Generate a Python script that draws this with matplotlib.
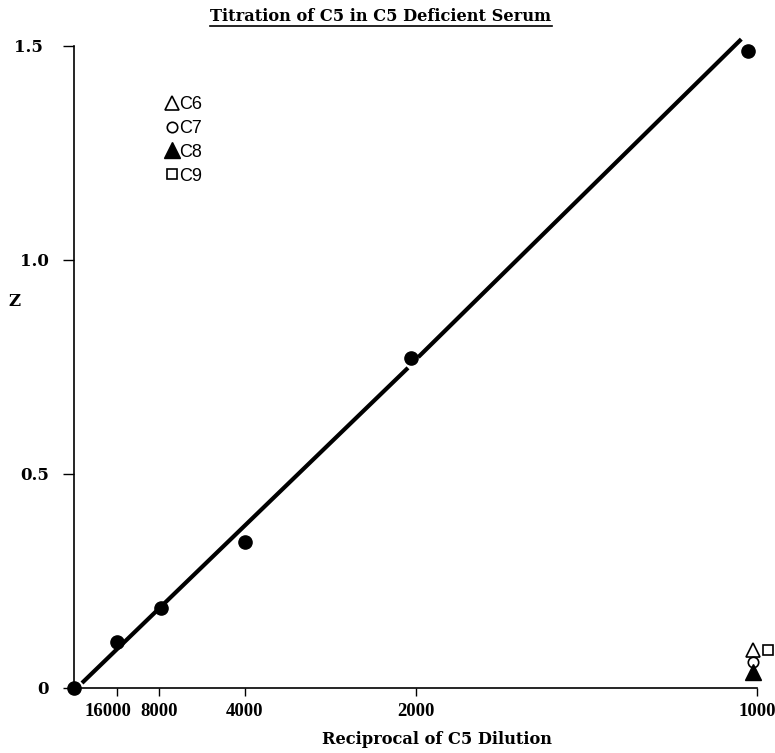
import matplotlib
matplotlib.use("Agg")
import matplotlib.pyplot as plt
from matplotlib.lines import Line2D
import matplotlib.transforms as mtransforms

# ---------------- data ----------------
reciprocal_ticks = [16000, 8000, 4000, 2000, 1000]
tick_labels = ["16000", "8000", "4000", "2000", "1000"]

# C5 titration points (x = concentration, i.e. 1 / reciprocal dilution)
c5_conc = [0.0, 0.0000625, 0.000127, 0.00025, 0.000494, 0.000987]
c5_z = [0.0, 0.107, 0.187, 0.341, 0.771, 1.488]

# fitted line (two segments, broken at the 2000 point)
fit_seg1_x = [0.0000117, 0.000489]
fit_seg1_z = [0.0117, 0.748]
fit_seg2_x = [0.000504, 0.000977]
fit_seg2_z = [0.773, 1.516]

# other components tested at 1:1000
c6_x, c6_z = [0.000994], [0.089]
c7_x, c7_z = [0.000994], [0.061]
c8_x, c8_z = [0.000994], [0.037]
c9_x, c9_z = [0.001016], [0.089]

y_ticks = [0, 0.5, 1.0, 1.5]
y_tick_labels = ["0", "0.5", "1.0", "1.5"]

# ---------------- figure ----------------
W, H = 775, 753
fig = plt.figure(figsize=(W / 100, H / 100), dpi=100)
ax = fig.add_axes([74 / W, 1 - 688 / H, (757 - 74) / W, (688 - 46) / H])

serif = "Liberation Serif"
wserif = "DejaVu Serif"
sans = "Liberation Sans"

ax.plot(fit_seg1_x, fit_seg1_z, color="black", lw=3.0, solid_capstyle="butt", clip_on=False)
ax.plot(fit_seg2_x, fit_seg2_z, color="black", lw=3.0, solid_capstyle="butt", clip_on=False)
ax.plot(c5_conc, c5_z, "o", color="black", ms=9.5, clip_on=False, zorder=5)

ax.plot(c6_x, c6_z, "^", mfc="white", mec="black", mew=1.2, ms=10.5, clip_on=False, zorder=6, label="C6")
ax.plot(c7_x, c7_z, "o", mfc="white", mec="black", mew=1.2, ms=7.5, clip_on=False, zorder=6, label="C7")
ax.plot(c8_x, c8_z, "^", mfc="black", mec="black", ms=11, clip_on=False, zorder=7, label="C8")
ax.plot(c9_x, c9_z, "s", mfc="white", mec="black", mew=1.2, ms=7.5, clip_on=False, zorder=6, label="C9")

ax.set_xlim(0, 0.001)
ax.set_ylim(0, 1.5)

for s in ["top", "right"]:
    ax.spines[s].set_visible(False)
for s in ["left", "bottom"]:
    ax.spines[s].set_linewidth(1.2)

ax.set_xticks([1.0 / r for r in reciprocal_ticks])
ax.set_xticklabels(tick_labels, fontfamily=serif, fontweight="bold", fontsize=13.5)
ax.set_yticks(y_ticks)
ax.set_yticklabels(y_tick_labels, fontfamily=wserif, fontweight="bold", fontsize=12)
ax.tick_params(axis="x", direction="out", length=6, width=1.0, pad=5)
ax.tick_params(axis="y", direction="out", length=8, width=1.0, pad=10)

# the "16000" label sits a little left of its tick in the original
xlabels = ax.get_xticklabels()
xlabels[0].set_transform(xlabels[0].get_transform() +
                         mtransforms.ScaledTranslation(-9 / 100, 0, fig.dpi_scale_trans))
ylabels = ax.get_yticklabels()
ylabels[-1].set_transform(ylabels[-1].get_transform() +
                          mtransforms.ScaledTranslation(-6 / 100, 0, fig.dpi_scale_trans))

ax.set_xlabel("Reciprocal of C5 Dilution", fontfamily=wserif, fontweight="bold", fontsize=11.7)
ax.xaxis.label.set_va("center")
ax.xaxis.set_label_coords((437 - 74) / (757 - 74), -(740 - 688) / (688 - 46))

fig.text(14 / W, 1 - 302 / H, "Z", fontfamily=wserif, fontweight="bold", fontsize=12,
         ha="center", va="center")

title = fig.text(381 / W, 1 - 16.5 / H, "Titration of C5 in C5 Deficient Serum",
                 fontfamily=wserif, fontweight="bold", fontsize=11.7, ha="center", va="center")

leg = ax.legend(loc="upper left", bbox_to_anchor=(165 / W, 1 - 96 / H),
                bbox_transform=fig.transFigure, frameon=False,
                prop={"family": sans, "size": 13}, handlelength=0.8,
                handletextpad=0.0, labelspacing=0.38, borderpad=0, borderaxespad=0)

# underline the title
fig.canvas.draw()
bb = title.get_window_extent(fig.canvas.get_renderer())
y_ul = bb.y0 - 1
fig.add_artist(Line2D([bb.x0 / W, bb.x1 / W], [y_ul / H, y_ul / H],
                      transform=fig.transFigure, color="black", lw=1.2))

fig.savefig("out.png", dpi=100)
